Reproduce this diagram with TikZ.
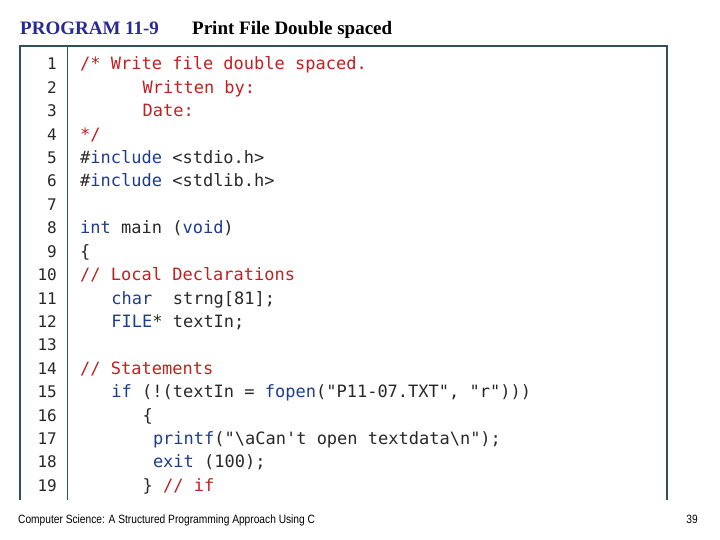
\documentclass[tikz,border=0pt]{standalone}
\usepackage{fontspec}
\setmainfont{Liberation Serif}
\newfontfamily\codefont{DejaVu Sans Mono}
\newfontfamily\footfont[FakeStretch=0.85]{Liberation Sans}
\definecolor{cmt}{RGB}{192,32,32}
\definecolor{kw}{RGB}{30,60,140}
\definecolor{txt}{RGB}{40,40,40}
\definecolor{frame}{RGB}{50,80,90}
\definecolor{ttl}{RGB}{40,40,150}
\newcommand\cm[1]{\textcolor{cmt}{#1}}
\newcommand\kw[1]{\textcolor{kw}{#1}}
\newcommand\dq{\textquotedbl}
\begin{document}
\begin{tikzpicture}[x=1pt,y=-1pt,
  code/.style = {anchor=base west, inner sep=0pt, font=\codefont\fontsize{17}{20}\selectfont, text=txt},
  num/.style = {anchor=base east, inner sep=0pt, font=\codefont\fontsize{16}{20}\selectfont, text=txt}]
\useasboundingbox (0,0) rectangle (720,540);
% title
\node[anchor=base west, inner sep=0pt, font=\bfseries\fontsize{19}{22}\selectfont, text=ttl] (ttl) at (20,35) {PROGRAM 11-9};
\node[anchor=base west, inner sep=0pt, font=\bfseries\fontsize{19}{22}\selectfont] (sub) at (192,35) {Print File Double spaced};
% frame
\draw[frame, line width=1.5pt] (20,500) -- (20,46) -- (667,46) -- (667,500);
\draw[frame, line width=0.8pt] (67,46) -- (67,500);
% line numbers
\foreach \i in {1,...,19}
  \node[num] (n\i) at (57,{70+(\i-1)*23.4}) {\i};
% code lines (x = 80 + column*10.4)
\node[code] (l1) at (80,70) {\cm{/* Write file double spaced.}};
\node[code] (l2) at (142.4,93.4) {\cm{Written by:}};
\node[code] (l3) at (142.4,116.8) {\cm{Date:}};
\node[code] (l4) at (80,140.2) {\cm{*/}};
\node[code] (l5) at (80,163.6) {\#\kw{include} <stdio.h>};
\node[code] (l6) at (80,187) {\#\kw{include} <stdlib.h>};
\node[code] (l8) at (80,233.8) {\kw{int} main (\kw{void})};
\node[code] (l9) at (80,257.2) {\{};
\node[code] (l10) at (80,280.6) {\cm{// Local Declarations}};
\node[code] (l11) at (111.2,304) {\kw{char}\ \ strng[81];};
\node[code] (l12) at (111.2,327.4) {\kw{FILE}* textIn;};
\node[code] (l14) at (80,374.2) {\cm{// Statements}};
\node[code] (l15) at (111.2,397.6) {\kw{if} (!(textIn = \kw{fopen}(\dq P11-07.TXT\dq, \dq r\dq)))};
\node[code] (l16) at (142.4,421) {\{};
\node[code] (l17) at (152.8,444.4) {\kw{printf}(\dq\textbackslash aCan\textquotesingle t open textdata\textbackslash n\dq);};
\node[code] (l18) at (152.8,467.8) {\kw{exit} (100);};
\node[code] (l19) at (142.4,491.2) {\} \cm{// if}};
% footer
\node[anchor=base west, inner sep=0pt, font=\footfont\fontsize{12}{14}\selectfont] (foot) at (18,523) {Computer Science: A Structured Programming Approach Using C};
\node[anchor=base east, inner sep=0pt, font=\footfont\fontsize{12}{14}\selectfont] (page) at (698,523) {39};
\end{tikzpicture}
\end{document}
